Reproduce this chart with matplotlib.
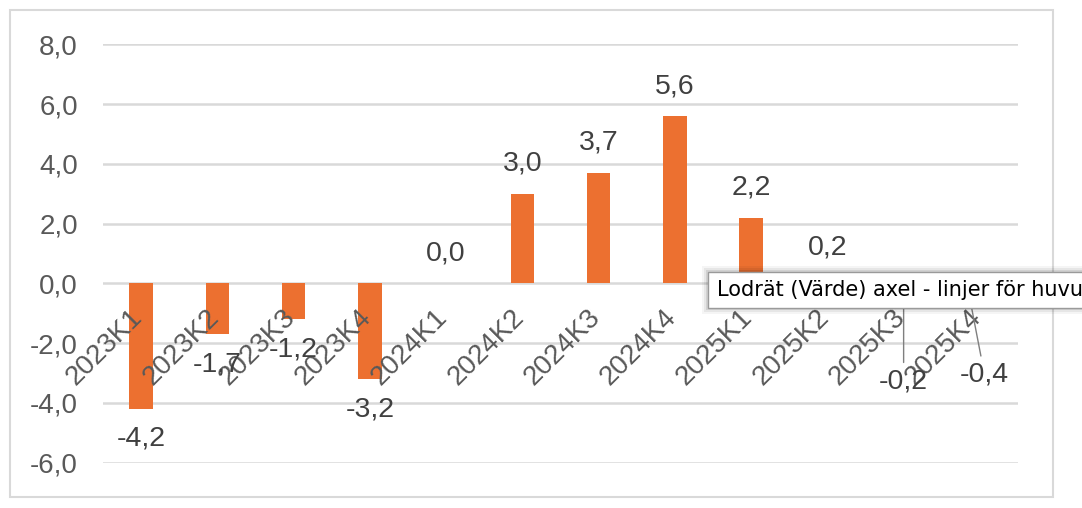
import matplotlib

matplotlib.use("Agg")
import matplotlib.pyplot as plt
from matplotlib.patches import Rectangle

plt.rcParams["font.family"] = ["Liberation Sans", "DejaVu Sans"]

# data
quarters = ["2023K1", "2023K2", "2023K3", "2023K4",
            "2024K1", "2024K2", "2024K3", "2024K4",
            "2025K1", "2025K2", "2025K3", "2025K4"]
values = [-4.2, -1.7, -1.2, -3.2, 0.0, 3.0, 3.7, 5.6, 2.2, 0.2, -0.2, -0.4]
y_ticks = [-6, -4, -2, 0, 2, 4, 6, 8]
tooltip_text = "Lodrät (Värde) axel - linjer för huvu"

BAR = "#EC7030"
GRID = "#D9D9D9"
TICK = "#595959"
LABEL = "#404040"

W, H = 1082, 508
fig = plt.figure(figsize=(W / 100, H / 100), dpi=100)


def fx(px):
    return px / W


def fy(py):
    return 1 - py / H


ax = fig.add_axes([fx(103), fy(462.7), fx(1018) - fx(103), fy(44.3) - fy(462.7)])

x = list(range(len(quarters)))
ax.bar(x, values, width=0.31, color=BAR, zorder=3)
ax.set_xlim(-0.5, len(quarters) - 0.5)
ax.set_ylim(-6, 8)
ax.set_yticks(y_ticks)
ax.set_yticklabels([f"{v:.1f}".replace(".", ",") for v in y_ticks], fontsize=20, color=TICK)
ax.tick_params(axis="y", length=0, pad=18)
ax.set_xticks([])
ax.grid(axis="y", color=GRID, linewidth=1.8, zorder=0)
for s in ax.spines.values():
    s.set_visible(False)

# category labels sit next to the zero line, rotated
for i, q in enumerate(quarters):
    ax.annotate(q, (i, 0), xytext=(5, -15), textcoords="offset points",
                rotation=45, ha="right", va="top", fontsize=20, color=TICK, zorder=4)

# data labels (the last two were dragged down, with leader lines)
leader = dict(arrowstyle="-", color="#7f7f7f", lw=1, shrinkA=2, shrinkB=0)
for i, v in enumerate(values):
    txt = f"{v:.1f}".replace(".", ",")
    if i == 10:
        ax.annotate(txt, (i, v), xytext=(0, -66), textcoords="offset points",
                    ha="center", va="center", fontsize=20.5, color=LABEL, zorder=5,
                    arrowprops=leader)
    elif i == 11:
        ax.annotate(txt, (i - 0.14, v), xytext=(11, -57), textcoords="offset points",
                    ha="center", va="center", fontsize=20.5, color=LABEL, zorder=5,
                    arrowprops=leader)
    else:
        off = 21.6 if v >= 0 else -21.6
        ax.annotate(txt, (i, v), xytext=(0, off), textcoords="offset points",
                    ha="center", va="center", fontsize=20.5, color=LABEL, zorder=5)

# outer chart border
fig.patches.append(Rectangle((fx(10), fy(497)), fx(1053) - fx(10), fy(10) - fy(497),
                             transform=fig.transFigure, fill=False,
                             edgecolor=GRID, linewidth=1.5))

# hover tooltip
for k, a in [(6, 0.04), (4, 0.06), (2, 0.09)]:
    fig.patches.append(Rectangle((fx(708 - k), fy(308 + k)), fx(420), (fy(272 - k) - fy(308 + k)),
                                 transform=fig.transFigure, facecolor="black",
                                 edgecolor="none", alpha=a, zorder=9))
fig.patches.append(Rectangle((fx(708), fy(308)), fx(420), fy(272) - fy(308),
                             transform=fig.transFigure, facecolor="white",
                             edgecolor="#9a9a9a", linewidth=1, zorder=10))
fig.text(fx(717), fy(290), tooltip_text, fontsize=15, color="black",
         family=["DejaVu Sans"], ha="left", va="center", zorder=11)

fig.savefig("out.png", dpi=100)
